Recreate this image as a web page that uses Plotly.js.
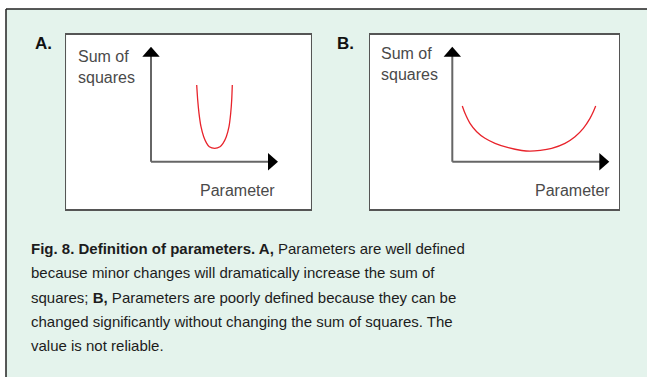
<!DOCTYPE html>
<html>
<head>
<meta charset="utf-8">
<script src="https://cdn.plot.ly/plotly-3.0.1.min.js"></script>
<style>
  html, body { margin: 0; padding: 0; background: #fff; }
  #chart { width: 647px; height: 377px; }
</style>
</head>
<body>
<div id="chart"></div>
<script>
// Curve A: well defined parameter (narrow valley)
const paramA = [45.7, 46.7, 48, 50, 52.7, 55.7, 58.3, 63.7, 69, 72, 75.3, 78, 79.7, 80.7, 81.3];
const ssqA = [76.7, 61.7, 48.4, 35, 25, 18.4, 15, 13.4, 15, 18.4, 25, 35, 48.4, 61.7, 76.7];

// Curve B: poorly defined parameter (wide, flat valley)
const paramB = [10, 12.7, 17.7, 24.4, 32.7, 42.7, 56, 69.4, 77.5, 88, 99.4, 112.7, 122.7, 131, 137.7, 141, 143.4];
const ssqB = [55.7, 48.4, 38.4, 30, 23.4, 18.4, 14, 11.2, 10.5, 11.3, 13.4, 18.4, 25, 33.4, 43.4, 50, 55.7];

const panelLabels = ['A.', 'B.'];
const yLabelLines = ['Sum of', 'squares'];
const xLabel = 'Parameter';

const captionLines = [
    '<b>Fig. 8. Definition of parameters. A,</b> Parameters are well defined',
    'because minor changes will dramatically increase the sum of',
    'squares; <b>B,</b> Parameters are poorly defined because they can be',
    'changed significantly without changing the sum of squares. The',
    'value is not reliable.'
];

const W = 647, H = 377;
const px = x => x / W;
const py = y => 1 - y / H;

const FONT = 'Liberation Sans, Arial, Helvetica, sans-serif';
const GREEN = '#e4f3ec';

// layout of each panel in page pixels (origin = where the two arrows meet)
const panels = [
    { left: 66.3, right: 310.7, top: 34.7, bottom: 209.3, ox: 151, oy: 161.7, xTip: 127, yTip: 115,
      label: [33, 43.3], sumOf: [75.5, 56.7, 78], param: [198, 190] },
    { left: 370, right: 619, top: 34.7, bottom: 209.3, ox: 452.3, oy: 161.7, xTip: 157, yTip: 115,
      label: [335, 43.3], sumOf: [379, 53.3, 74], param: [532.5, 190] }
];

const curves = [[paramA, ssqA], [paramB, ssqB]];

const data = curves.map((c, i) => ({
    x: c[0],
    y: c[1],
    type: 'scatter',
    mode: 'lines',
    line: { color: '#e8232b', width: 1.3, shape: 'spline', smoothing: 0.8 },
    xaxis: i === 0 ? 'x' : 'x2',
    yaxis: i === 0 ? 'y' : 'y2',
    hoverinfo: 'skip'
}));

const layout = {
    width: W,
    height: H,
    margin: { l: 0, r: 0, t: 0, b: 0 },
    paper_bgcolor: GREEN,
    plot_bgcolor: '#ffffff',
    showlegend: false,
    shapes: [],
    annotations: []
};

// white strip outside the boxed figure, then its frame
layout.shapes.push(
    { type: 'rect', xref: 'paper', yref: 'paper', x0: 0, x1: 1, y0: py(9), y1: 1, fillcolor: '#fff', line: { width: 0 } },
    { type: 'rect', xref: 'paper', yref: 'paper', x0: 0, x1: px(6), y0: 0, y1: 1, fillcolor: '#fff', line: { width: 0 } },
    { type: 'line', xref: 'paper', yref: 'paper', x0: px(6), x1: 1, y0: py(9), y1: py(9), line: { color: '#222', width: 1.5 } },
    { type: 'line', xref: 'paper', yref: 'paper', x0: px(6), x1: px(6), y0: 0, y1: py(9), line: { color: '#222', width: 1.5 } }
);

panels.forEach((p, i) => {
    const n = i === 0 ? '' : '2';
    const xa = 'x' + n, ya = 'y' + n;
    const axStyle = {
        showgrid: false, zeroline: false, showticklabels: false, ticks: '',
        showline: true, mirror: true, linecolor: '#555', linewidth: 1.3, fixedrange: true
    };
    layout['xaxis' + n] = Object.assign({}, axStyle, {
        domain: [px(p.left), px(p.right)],
        range: [p.left - p.ox, p.right - p.ox],
        anchor: ya
    });
    layout['yaxis' + n] = Object.assign({}, axStyle, {
        domain: [py(p.bottom), py(p.top)],
        range: [p.oy - p.bottom, p.oy - p.top],
        anchor: xa
    });

    // drawn axes with arrowheads
    layout.shapes.push(
        { type: 'line', xref: xa, yref: ya, x0: 0, y0: 0, x1: 0, y1: p.yTip - 8, line: { color: '#666', width: 2 } },
        { type: 'line', xref: xa, yref: ya, x0: 0, y0: 0, x1: p.xTip - 8, y1: 0, line: { color: '#666', width: 2 } },
        { type: 'path', xref: xa, yref: ya, xsizemode: 'pixel', ysizemode: 'pixel',
          xanchor: 0, yanchor: p.yTip, path: 'M-8.7,-10 L8.7,-10 L0,0 Z', fillcolor: '#000', line: { width: 0 } },
        { type: 'path', xref: xa, yref: ya, xsizemode: 'pixel', ysizemode: 'pixel',
          xanchor: p.xTip, yanchor: 0, path: 'M-10,-8.7 L-10,8.7 L0,0 Z', fillcolor: '#000', line: { width: 0 } }
    );

    const txt = (text, x, y, size, color) => ({
        text: text, xref: 'paper', yref: 'paper', x: px(x), y: py(y),
        xanchor: 'left', yanchor: 'middle', showarrow: false,
        font: { family: FONT, size: size, color: color }
    });
    layout.annotations.push(
        txt('<b>' + panelLabels[i] + '</b>', p.label[0], p.label[1], 17, '#111'),
        txt(yLabelLines[0], p.sumOf[0], p.sumOf[1], 16, '#4a4a4a'),
        txt(yLabelLines[1], p.sumOf[0], p.sumOf[2], 16, '#4a4a4a'),
        txt(xLabel, p.param[0], p.param[1], 16, '#4a4a4a')
    );
});

// figure caption, one annotation per line
const captionY = [248, 272.5, 297, 321, 345];
captionLines.forEach((line, i) => {
    layout.annotations.push({
        text: line, xref: 'paper', yref: 'paper', x: px(29), y: py(captionY[i]),
        xanchor: 'left', yanchor: 'middle', showarrow: false,
        font: { family: FONT, size: 15, color: '#1c1c1c' }
    });
});

Plotly.newPlot('chart', data, layout, { displayModeBar: false, staticPlot: true });
</script>
</body>
</html>
